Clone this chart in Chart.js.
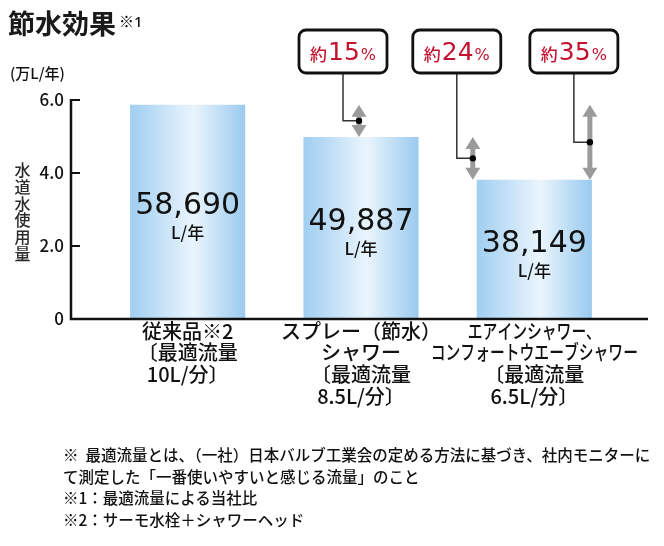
<!DOCTYPE html>
<html><head><meta charset="utf-8">
<script src="https://cdn.jsdelivr.net/npm/chart.js@4.4.1/dist/chart.umd.min.js"></script>
<style>
html,body{margin:0;padding:0;background:#fff;}
#wrap{position:relative;width:664px;height:546px;overflow:hidden;font-family:"Noto Sans CJK JP","Noto Sans",sans-serif;color:#111;}
#c{position:absolute;left:0;top:0;}
.t{position:absolute;white-space:nowrap;font-family:"Noto Sans CJK JP",sans-serif;}
#title{left:8px;top:9px;font-size:27px;line-height:27px;font-weight:700;color:#1a1a1a;}
#title1{left:119px;top:13px;font-size:15px;line-height:15px;font-weight:500;}
#title1 .d{font-family:"Noto Sans",sans-serif;}
#unit{left:10px;top:65px;font-size:15px;line-height:16px;font-weight:500;}
#ytitle{left:14px;top:161px;font-size:16px;line-height:16.8px;color:#2a2a2a;width:17px;white-space:normal;text-align:center;font-weight:500;}
#notes{left:63px;top:444px;font-size:15.5px;line-height:21.7px;font-weight:500;}
</style></head>
<body><div id="wrap">
<canvas id="c" width="664" height="546"></canvas>
<div class="t" id="title"></div>
<div class="t" id="title1"></div>
<div class="t" id="unit"></div>
<div class="t" id="ytitle"></div>
<div class="t" id="notes"></div>
</div>
<script>
// ---- data ----
const titleText = '節水効果';
const titleNoteMark = '※';
const titleNoteNum = '1';
const unitText = '(万L/年)';
const yAxisTitle = '水道水使用量';
const categories = [
  ['従来品※2', '〔最適流量', '10L/分〕'],
  ['スプレー（節水）', 'シャワー', '〔最適流量', '8.5L/分〕'],
  ['エアインシャワー、', 'コンフォートウエーブシャワー', '〔最適流量', '6.5L/分〕']
];
const usage = [5.869, 4.9887, 3.8149];          // 万L/年
const usageLabels = ['58,690', '49,887', '38,149'];
const usageUnit = 'L/年';
const yTickLabels = ['0', '2.0', '4.0', '6.0'];
const savingPrefix = '約';
const savingValues = ['15', '24', '35'];
const savingSuffix = '%';
const savingPairs = [[0, 1], [1, 2], [0, 2]];   // from bar -> to bar
const footnotes = [
  '※\u00a0\u00a0最適流量とは、（一社）日本バルブ工業会の定める方法に基づき、社内モニターに',
  'て測定した「一番使いやすいと感じる流量」のこと',
  '※1：最適流量による当社比',
  '※2：サーモ水栓＋シャワーヘッド'
];

document.getElementById('title').textContent = titleText;
const t1 = document.getElementById('title1');
t1.appendChild(document.createTextNode(titleNoteMark));
const t1d = document.createElement('span'); t1d.className = 'd'; t1d.textContent = titleNoteNum; t1.appendChild(t1d);
document.getElementById('unit').textContent = unitText;
document.getElementById('ytitle').innerHTML = yAxisTitle.split('').join('<br>');
document.getElementById('notes').innerHTML = footnotes.map(s => s.replace(/&/g,'&amp;').replace(/</g,'&lt;')).join('<br>');

const JP = '"Noto Sans CJK JP", sans-serif';
const NUM = '"DejaVu Sans", sans-serif';
const BAR_PCT = 0.664;

function barGradient(c) {
  const ch = c.chart;
  const xs = ch.scales.x;
  if (!ch.chartArea || !xs) return '#c5e2f7';
  const cx = xs.getPixelForValue(c.dataIndex);
  const w = (xs.width / categories.length) * BAR_PCT;
  const g = ch.ctx.createLinearGradient(cx - w / 2, 0, cx + w / 2, 0);
  g.addColorStop(0, '#a0cef1');
  g.addColorStop(0.55, '#eaf5fd');
  g.addColorStop(1, '#9acaef');
  return g;
}

const overlay = {
  id: 'overlay',
  afterDatasetsDraw(chart) {
    const ctx = chart.ctx;
    const area = chart.chartArea;
    const xs = chart.scales.x, ys = chart.scales.y;
    const meta = chart.getDatasetMeta(0);
    const axisX = area.left - 30;
    const axisRight = area.right + 27;
    ctx.save();
    // axes
    ctx.strokeStyle = '#111';
    ctx.lineWidth = 2.5;
    ctx.beginPath();
    ctx.moveTo(axisX, ys.getPixelForValue(6) - 1);
    ctx.lineTo(axisX, area.bottom);
    ctx.lineTo(axisRight, area.bottom);
    ctx.stroke();
    ctx.lineWidth = 2;
    [2, 4, 6].forEach(v => {
      const y = ys.getPixelForValue(v);
      ctx.beginPath(); ctx.moveTo(axisX, y); ctx.lineTo(axisX + 9, y); ctx.stroke();
    });
    // bar value labels
    meta.data.forEach((el, i) => {
      const mid = (el.y + el.base) / 2;
      ctx.fillStyle = '#111';
      ctx.textAlign = 'center';
      ctx.textBaseline = 'alphabetic';
      ctx.font = '30px ' + NUM;
      ctx.fillText(usageLabels[i], el.x, mid + 2.5);
      ctx.font = '500 17px ' + JP;
      ctx.textBaseline = 'middle';
      ctx.fillText(usageUnit, el.x, mid + 21);
    });
    // category labels
    categories.forEach((lines, i) => {
      const cx = xs.getPixelForValue(i);
      lines.forEach((s, j) => {
        const y = area.bottom + 12 + j * 21.7;
        ctx.font = '500 20px ' + JP;
        ctx.fillStyle = '#111';
        ctx.textAlign = 'center';
        ctx.textBaseline = 'middle';
        const condensed = (i === 2 && j < 2);
        ctx.save();
        ctx.translate(cx, y);
        if (condensed) ctx.scale(0.74, 1);
        ctx.fillText(s, 0, 0);
        ctx.restore();
      });
    });
    // saving arrows and callouts
    const anchors = ['center', 'left', 'right'];
    savingPairs.forEach(([a, b], k) => {
      const eb = meta.data[b];
      let x;
      if (anchors[k] === 'center') x = eb.x - 2;
      else if (anchors[k] === 'left') x = eb.x - eb.width / 2 - 4;
      else x = eb.x + eb.width / 2 - 2;
      const yTop = ys.getPixelForValue(usage[a]);
      const yBot = ys.getPixelForValue(usage[b]);
      const midY = (yTop + yBot) / 2;
      const hl = 12, hw = 7.5;
      ctx.fillStyle = '#9b9b9b';
      ctx.fillRect(x - 2.5, yTop + hl - 1, 5, (yBot - yTop) - 2 * hl + 2);
      ctx.beginPath();
      ctx.moveTo(x, yTop); ctx.lineTo(x - hw, yTop + hl); ctx.lineTo(x + hw, yTop + hl); ctx.closePath(); ctx.fill();
      ctx.beginPath();
      ctx.moveTo(x, yBot); ctx.lineTo(x - hw, yBot - hl); ctx.lineTo(x + hw, yBot - hl); ctx.closePath(); ctx.fill();
      // callout box
      const bw = 88, bh = 43;
      const bcx = x - 16;
      const bTop = area.top - 70;
      ctx.strokeStyle = '#333';
      ctx.lineWidth = 1.5;
      ctx.beginPath();
      ctx.moveTo(bcx, bTop + bh);
      ctx.lineTo(bcx, midY);
      ctx.lineTo(x, midY);
      ctx.stroke();
      ctx.fillStyle = '#000';
      ctx.beginPath(); ctx.arc(x, midY, 3.2, 0, Math.PI * 2); ctx.fill();
      ctx.fillStyle = '#fff';
      ctx.strokeStyle = '#111';
      ctx.lineWidth = 2.8;
      ctx.beginPath();
      ctx.roundRect(bcx - bw / 2, bTop, bw, bh, 7);
      ctx.fill(); ctx.stroke();
      // text
      const red = '#c4122f';
      ctx.fillStyle = red;
      ctx.textAlign = 'left';
      ctx.textBaseline = 'alphabetic';
      const f1 = '500 17px ' + JP, f2 = '25px ' + NUM, f3 = '16px ' + NUM;
      ctx.font = f1; const w1 = ctx.measureText(savingPrefix).width;
      ctx.font = f2; const w2 = ctx.measureText(savingValues[k]).width;
      ctx.font = f3; const w3 = ctx.measureText(savingSuffix).width;
      let tx = bcx - (w1 + w2 + w3 + 2) / 2;
      const base = bTop + 30;
      ctx.font = f1; ctx.fillText(savingPrefix, tx, base + 1); tx += w1 + 1;
      ctx.font = f2; ctx.fillText(savingValues[k], tx, base); tx += w2 + 1;
      ctx.font = f3; ctx.fillText(savingSuffix, tx, base);
    });
    ctx.restore();
  }
};

new Chart(document.getElementById('c'), {
  type: 'bar',
  data: {
    labels: categories,
    datasets: [{
      data: usage,
      backgroundColor: barGradient,
      borderWidth: 0,
      barPercentage: BAR_PCT,
      categoryPercentage: 1
    }]
  },
  options: {
    responsive: false,
    animation: false,
    layout: { padding: { left: 0, right: 43, top: 100, bottom: 0 } },
    plugins: { legend: { display: false }, tooltip: { enabled: false }, title: { display: false } },
    scales: {
      x: {
        grid: { display: false, drawTicks: false },
        border: { display: false },
        ticks: { display: false },
        afterFit(s) { s.height = 227; }
      },
      y: {
        min: 0, max: 6,
        ticks: {
          stepSize: 2, padding: 37, color: '#111',
          font: { family: '"Noto Sans CJK JP", sans-serif', size: 17, weight: '500' },
          callback: (v, i) => yTickLabels[i]
        },
        grid: { display: false, drawTicks: false },
        border: { display: false },
        afterFit(s) { s.width = 101; }
      }
    }
  },
  plugins: [overlay]
});
</script>
</body></html>
